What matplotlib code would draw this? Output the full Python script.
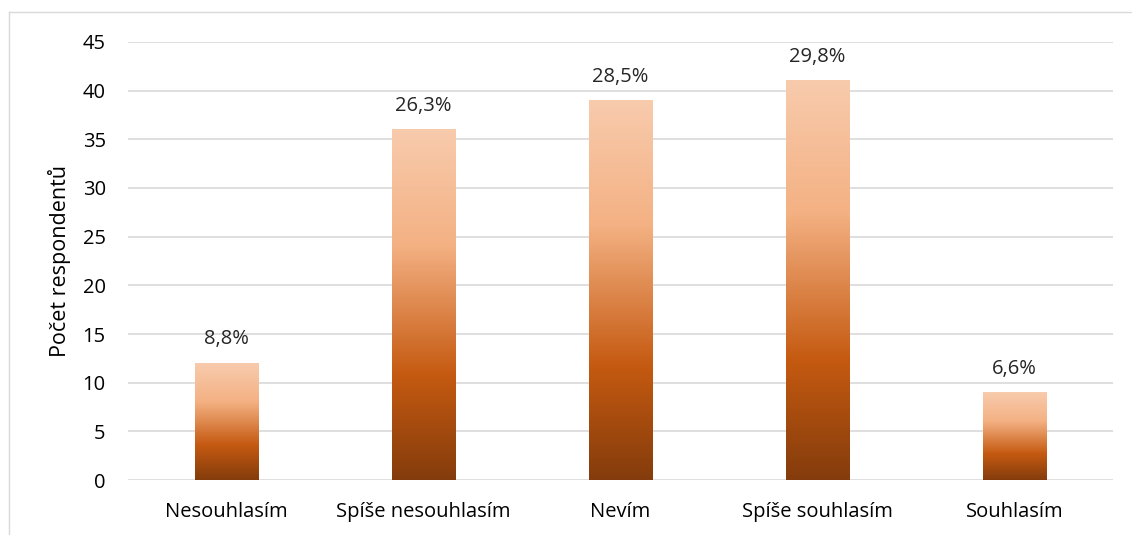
import numpy as np
import matplotlib
matplotlib.use('Agg')
import matplotlib.pyplot as plt
from matplotlib.colors import LinearSegmentedColormap
from matplotlib.lines import Line2D

# data
categories = ['Nesouhlasím', 'Spíše nesouhlasím', 'Nevím', 'Spíše souhlasím', 'Souhlasím']
counts = [12, 36, 39, 41, 9]
pct_labels = ['8,8%', '26,3%', '28,5%', '29,8%', '6,6%']
yticks = [0, 5, 10, 15, 20, 25, 30, 35, 40, 45]

plt.rcParams['font.family'] = ['Open Sans', 'DejaVu Sans']

# gradient from bottom (dark) to top (light)
cmap = LinearSegmentedColormap.from_list('grad', [
    (0.0, '#843C0C'),
    (0.30, '#C55A11'),
    (0.67, '#F4B183'),
    (1.0, '#F8CBAD'),
])
grad = np.linspace(0, 1, 256).reshape(-1, 1)

fig = plt.figure(figsize=(11.32, 5.35), dpi=100)
ax = fig.add_axes([0.113, 0.1028, 0.870, 0.8187])

x = np.arange(len(categories))
width = 0.32
bars = ax.bar(x, counts, width=width, color='none', zorder=3)
for b in bars:
    x0, w, h = b.get_x(), b.get_width(), b.get_height()
    ax.imshow(grad, extent=[x0, x0 + w, 0, h], origin='lower', cmap=cmap,
              aspect='auto', zorder=3, interpolation='bicubic')

for xi, c, lab in zip(x, counts, pct_labels):
    ax.annotate(lab, (xi, c), xytext=(0, 10), textcoords='offset points',
                ha='center', va='bottom', fontsize=14.5, color='#262626')

ax.set_xlim(-0.5, len(categories) - 0.5)
ax.set_ylim(0, 45)
ax.set_aspect('auto')
ax.set_yticks(yticks)
ax.set_xticks(x)
ax.set_xticklabels(categories)
ax.tick_params(axis='both', length=0, labelsize=14.5, colors='#000000')
ax.tick_params(axis='y', pad=16)
ax.tick_params(axis='x', pad=16)
ax.grid(axis='y', color='#D9D9D9', linewidth=1.2, zorder=0)
ax.set_axisbelow(True)
for s in ax.spines.values():
    s.set_visible(False)
ax.set_ylabel('Počet respondentů', fontsize=15.5, labelpad=8)

# chart frame (left and top edges visible)
fig.add_artist(Line2D([0.008, 0.008], [0, 0.978], color='#D9D9D9', lw=1, transform=fig.transFigure))
fig.add_artist(Line2D([0.008, 1.0], [0.978, 0.978], color='#D9D9D9', lw=1, transform=fig.transFigure))

fig.savefig('out.png', dpi=100)
